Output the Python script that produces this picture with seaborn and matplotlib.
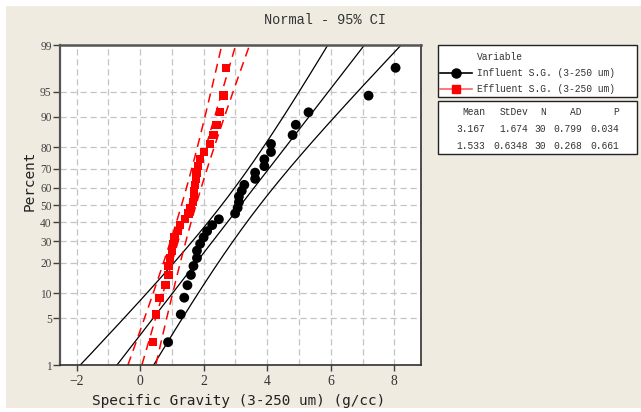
import numpy as np
import pandas as pd
import seaborn as sns
import matplotlib
matplotlib.use("Agg")
import matplotlib.pyplot as plt
from matplotlib.lines import Line2D
from matplotlib.patches import Rectangle
from statistics import NormalDist

# ---- data: specific gravity (3-250 um), g/cc ----
influent_sg = [0.88, 1.28, 1.39, 1.49, 1.60, 1.68, 1.79, 1.79, 1.89, 2.00,
               2.11, 2.27, 2.48, 2.99, 3.07, 3.11, 3.11, 3.20, 3.28, 3.62,
               3.62, 3.91, 3.91, 4.12, 4.12, 4.80, 4.90, 5.30, 7.19, 8.04]
effluent_sg = [0.40, 0.50, 0.61, 0.80, 0.89, 0.89, 0.94, 1.00, 1.03, 1.08,
               1.20, 1.26, 1.42, 1.52, 1.59, 1.66, 1.69, 1.70, 1.72, 1.76,
               1.78, 1.82, 1.89, 2.01, 2.20, 2.31, 2.41, 2.52, 2.62, 2.70]

series_names = ["Influent S.G. (3-250 um)", "Effluent S.G. (3-250 um)"]
fit_mean = [3.167, 1.533]
fit_stdev = [1.674, 0.6348]
stat_header = ["Mean", "StDev", "N", "AD", "P"]
stat_rows = [["3.167", "1.674", "30", "0.799", "0.034"],
             ["1.533", "0.6348", "30", "0.268", "0.661"]]

percent_ticks = [1, 5, 10, 20, 30, 40, 50, 60, 70, 80, 90, 95, 99]
x_ticks = [-2, 0, 2, 4, 6, 8]

# ---- normal probability scale ----
_nd = NormalDist()
_ppf1 = np.vectorize(lambda q: _nd.inv_cdf(min(max(q, 1e-9), 1 - 1e-9))
                     if np.isfinite(q) else np.nan, otypes=[float])
_cdf1 = np.vectorize(lambda z: _nd.cdf(z) if np.isfinite(z) else np.nan,
                     otypes=[float])


def prob_fwd(p):
    return _ppf1(np.asarray(p, dtype=float) / 100.0)


def prob_inv(z):
    return _cdf1(np.asarray(z, dtype=float)) * 100.0


def plot_pos(n):
    i = np.arange(1, n + 1)
    return (i - 0.3) / (n + 0.4) * 100.0


frames = []
for name, vals in zip(series_names, [influent_sg, effluent_sg]):
    v = np.sort(np.asarray(vals, dtype=float))
    frames.append(pd.DataFrame({"sg": v, "pct": plot_pos(len(v)), "Variable": name}))
df = pd.concat(frames, ignore_index=True)

# ---- figure ----
W, H = 641, 412
fig = plt.figure(figsize=(W / 100, H / 100), dpi=100, facecolor="white")
bg = "#EFEBE1"
fig.add_artist(Rectangle((6 / W, 4 / H), 1 - 6 / W, (H - 10) / H,
                         transform=fig.transFigure, facecolor=bg,
                         edgecolor="none", zorder=-10))


def fx(px):
    return px / W


def fy(py):
    return 1 - py / H


ax = fig.add_axes([fx(60), fy(365), fx(421) - fx(60), fy(45) - fy(365)])
ax.set_facecolor("white")
ax.set_yscale("function", functions=(prob_fwd, prob_inv))
ax.set_xlim(-2.52, 8.84)
ax.set_ylim(1, 99)

# grid
for xv in range(-2, 9):
    ax.axvline(xv, color="#C4C4C4", lw=0.9, dashes=(5, 3), zorder=0)
for pv in percent_ticks[1:-1]:
    ax.axhline(pv, color="#C4C4C4", lw=0.9, dashes=(5, 3), zorder=0)

# fitted lines with 95% confidence bands
n = 30
pgrid = np.linspace(0.3, 99.7, 300)
zg = prob_fwd(pgrid)
line_styles = [dict(color="black", lw=0.9, ls="-"),
               dict(color="red", lw=1.1, dashes=(6, 4))]
for mu, sd, st in zip(fit_mean, fit_stdev, line_styles):
    center = mu + sd * zg
    half = 1.96 * sd * np.sqrt(1.0 / n + zg ** 2 / (2.0 * n))
    for xs in (center - half, center, center + half):
        ax.plot(xs, pgrid, zorder=2, **st)

# points
sns.scatterplot(data=df, x="sg", y="pct", hue="Variable", style="Variable",
                hue_order=series_names, style_order=series_names,
                palette=["black", "red"], markers=["o", "s"],
                size="Variable", sizes={series_names[0]: 50, series_names[1]: 36},
                linewidth=0, legend=False, ax=ax, zorder=3)

ax.set_xticks(x_ticks)
ax.set_yticks(percent_ticks)
ax.set_yticklabels([str(p) for p in percent_ticks])
ax.yaxis.set_minor_locator(matplotlib.ticker.NullLocator())
ax.xaxis.set_minor_locator(matplotlib.ticker.NullLocator())
ax.tick_params(axis="x", direction="out", length=4, width=1, color="#404040",
               labelsize=9.8, labelcolor="#333333", pad=3)
ax.tick_params(axis="y", direction="out", length=5, width=1, color="#404040",
               labelsize=8.3, labelcolor="#444444", pad=1)
for lab in ax.get_xticklabels() + ax.get_yticklabels():
    lab.set_fontfamily("Liberation Serif")
for side in ["left", "bottom", "right", "top"]:
    ax.spines[side].set_color("#303030")
    ax.spines[side].set_linewidth(1.2)
ax.spines["top"].set_color("#555555")
ax.spines["top"].set_linewidth(1.8)
ax.spines["left"].set_color("#555555")
ax.spines["left"].set_linewidth(1.6)
ax.set_xlabel("")
ax.set_ylabel("")

# titles and axis labels
fig.text(fx(325), fy(20), "Normal - 95% CI", ha="center", va="center",
         family="Liberation Mono", fontsize=9.8, color="#333333")
fig.text(fx(239), fy(401), "Specific Gravity (3-250 um) (g/cc)", ha="center",
         va="center", family="DejaVu Sans Mono", fontsize=10.4, color="#222222")
fig.text(fx(30), fy(181), "Percent", ha="center", va="center", rotation=90,
         family="DejaVu Sans Mono", fontsize=10.4, color="#222222")

# legend box
fig.add_artist(Rectangle((fx(438), fy(97)), fx(637) - fx(438), fy(45) - fy(97),
                         transform=fig.transFigure, facecolor="white",
                         edgecolor="#222222", lw=1.0))
mono = dict(family="Liberation Mono", fontsize=6.9, color="#333333", va="center")
fig.text(fx(477), fy(57), "Variable", ha="left", **mono)
legend_rows = [(73, "black", "black", "o"), (89, "#FF6060", "red", "s")]
for (py, lc, mc, mk), name in zip(legend_rows, series_names):
    fig.add_artist(Line2D([fx(440), fx(472)], [fy(py), fy(py)],
                          transform=fig.transFigure, color=lc, lw=1.2))
    fig.add_artist(Line2D([fx(456)], [fy(py)], transform=fig.transFigure,
                          marker=mk, color=mc, markersize=6.5 if mk == "o" else 5.5,
                          lw=0))
    fig.text(fx(477), fy(py), name, ha="left", **mono)

# statistics table
fig.add_artist(Rectangle((fx(438), fy(154)), fx(637) - fx(438), fy(101) - fy(154),
                         transform=fig.transFigure, facecolor="white",
                         edgecolor="#222222", lw=1.0))
col_right = [485, 528, 546, 582, 619]
row_y = [112, 129, 146]
for cx, txt in zip(col_right, stat_header):
    fig.text(fx(cx), fy(row_y[0]), txt, ha="right", **mono)
for ry, row in zip(row_y[1:], stat_rows):
    for cx, txt in zip(col_right, row):
        fig.text(fx(cx), fy(ry), txt, ha="right", **mono)

fig.savefig("out.png", dpi=100, facecolor=fig.get_facecolor())
